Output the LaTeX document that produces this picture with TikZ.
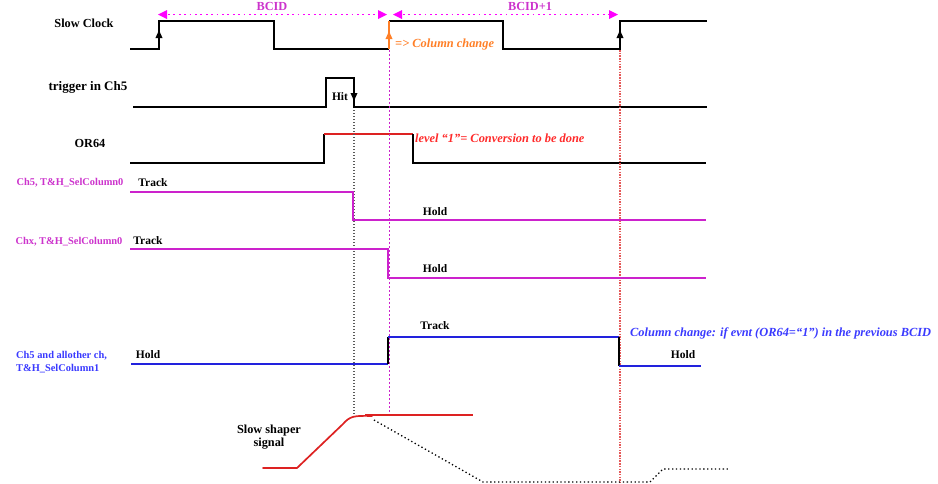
\documentclass[tikz,border=0pt]{standalone}
\usepackage{fontspec}
\setmainfont{Liberation Serif}
\usetikzlibrary{arrows.meta}
\definecolor{magl}{HTML}{CC33CC}
\definecolor{magline}{HTML}{CC22CC}
\definecolor{magarr}{HTML}{FF00FF}
\definecolor{orng}{HTML}{FF7F27}
\definecolor{redl}{HTML}{DD2222}
\definecolor{redt}{HTML}{FF2A2A}
\definecolor{bluel}{HTML}{2222DD}
\definecolor{bluet}{HTML}{3A3AFF}
\begin{document}
\begin{tikzpicture}[x=1pt,y=-1pt,
  sig/.style={line width=1.7pt, line join=miter},
  big/.style={font=\bfseries\fontsize{12.3}{13}\selectfont, inner sep=0pt},
  mid/.style={font=\bfseries\fontsize{11.5}{12}\selectfont, inner sep=0pt},
  small/.style={font=\bfseries\fontsize{10.4}{12}\selectfont, inner sep=0pt},
  note/.style={font=\bfseries\itshape\fontsize{12.4}{13}\selectfont, inner sep=0pt, anchor=west},
  bcid/.style={magarr, line width=1.8pt, dash pattern=on 1.8pt off 3.6pt},
  edgearrow/.style={-{Triangle[length=8pt,width=6.5pt]}, line width=1.7pt}]
\useasboundingbox (0,0) rectangle (938,483);

% ---------- Slow Clock ----------
\node[big] (lclk) at (84,23) {Slow Clock};
\draw[sig] (130,49) -- (159,49) -- (159,21) -- (274,21) -- (274,49) -- (389,49);
\draw[sig] (389,21) -- (503,21) -- (503,49) -- (620,49) -- (620,21) -- (707,21);
\coordinate (e1b) at (159,49); \coordinate (e1t) at (159,30);
\coordinate (e2b) at (389,49); \coordinate (e2t) at (389,21); \coordinate (e2m) at (389,31);
\coordinate (e3b) at (620,49); \coordinate (e3t) at (620,30);
\draw[edgearrow] (e1b) -- (e1t);
\draw[edgearrow] (e3b) -- (e3t);
\draw[orng, line width=1.7pt] (e2b) -- (e2t);
\draw[orng, edgearrow] (e2b) -- (e2m);
\node[note, orng] (colch) at (395,45) {=> Column change};

% BCID arrows
\coordinate (b1l) at (158,14.5); \coordinate (b1r) at (387,14.5);
\coordinate (b2l) at (393,14.5); \coordinate (b2r) at (618,14.5);
\draw[bcid] (168,14.5) -- (378,14.5);
\draw[bcid] (403,14.5) -- (609,14.5);
\fill[magarr] (b1l) -- ++(9,-4.5) -- ++(0,9) -- cycle;
\fill[magarr] (b1r) -- ++(-9,-4.5) -- ++(0,9) -- cycle;
\fill[magarr] (b2l) -- ++(9,-4.5) -- ++(0,9) -- cycle;
\fill[magarr] (b2r) -- ++(-9,-4.5) -- ++(0,9) -- cycle;
\node[big, magl] (bc1) at (272,6.5) {BCID};
\node[big, magl] (bc2) at (530,6.5) {BCID+1};

% ---------- trigger in Ch5 ----------
\node[big, font=\bfseries\fontsize{13}{14}\selectfont] (ltrg) at (88,87) {trigger in Ch5};
\draw[sig] (133,107) -- (326,107) -- (326,78) -- (354,78) -- (354,107) -- (707,107);
\coordinate (h1) at (354,79); \coordinate (h2) at (354,101);
\draw[edgearrow] (h1) -- (h2);
\node[mid] (hit) at (340,97) {Hit};

% ---------- OR64 ----------
\node[big] (lor) at (90,143) {OR64};
\draw[sig] (130,163) -- (324,163) -- (324,134);
\draw[sig, redl] (324,134) -- (413,134);
\draw[sig] (413,134) -- (413,163) -- (706,163);
\node[note, redt] (lvl) at (415,138) {level “1”= Conversion to be done};

% ---------- vertical guide lines ----------
\coordinate (vb1) at (354,110); \coordinate (vb2) at (354,415);
\coordinate (vm1) at (389,50); \coordinate (vm2) at (389,415);
\coordinate (vr1) at (620,50); \coordinate (vr2) at (620,483);
\draw[black!65, line width=1.2pt, dash pattern=on 1.2pt off 1.8pt] (vb1) -- (vb2);
\draw[magline, line width=1pt, dash pattern=on 1.5pt off 2.5pt] (vm1) -- (vm2);
\draw[redl!75, line width=1.2pt, dash pattern=on 1.5pt off 1.2pt] (vr1) -- (vr2);

% ---------- Ch5, T&H_SelColumn0 ----------
\node[small, magl] (lc5) at (70,183) {Ch5, T\&H\_SelColumn0};
\draw[sig, magline] (130,192) -- (353,192) -- (353,220) -- (706,220);
\node[mid] (tr1) at (153,183) {Track};
\node[mid] (ho1) at (435,212) {Hold};

% ---------- Chx, T&H_SelColumn0 ----------
\node[small, magl] (lcx) at (69,242) {Chx, T\&H\_SelColumn0};
\draw[sig, magline] (130,249) -- (388,249) -- (388,278) -- (706,278);
\node[mid] (tr2) at (148,241) {Track};
\node[mid] (ho2) at (435,269) {Hold};

% ---------- Ch5 and allother ch, T&H_SelColumn1 ----------
\node[small, bluet, anchor=west, align=left, font=\bfseries\fontsize{10.4}{13.5}\selectfont] (lc1) at (16,362) {Ch5 and allother ch,\\T\&H\_SelColumn1};
\draw[sig, bluel] (131,364) -- (388,364);
\draw[sig] (388,364) -- (388,337);
\draw[sig, bluel] (388,337) -- (619,337);
\draw[sig] (619,337) -- (619,366);
\draw[sig, bluel] (619,366) -- (701,366);
\node[mid] (ho3) at (148,355) {Hold};
\node[mid] (tr3) at (435,326) {Track};
\node[mid] (ho4) at (683,355) {Hold};
\node[note, bluet] (cc) at (630,333) {Column change: if evnt (OR64=“1”) in the previous BCID};

% ---------- Slow shaper signal ----------
\node[big, align=center, font=\bfseries\fontsize{12.3}{13.5}\selectfont] (lss) at (269,437) {Slow shaper\\signal};
\draw[sig, redl, line cap=round] (263,468) -- (297,468) -- (343,424) .. controls (350,416) and (354,415.5) .. (372,416);
\draw[sig, redl] (365,415) -- (473,415);
\draw[black, line width=1.3pt, dash pattern=on 1.3pt off 2.6pt] (374,420) -- (483,482) -- (650,482) -- (663,469) -- (730,469);
\end{tikzpicture}
\end{document}
